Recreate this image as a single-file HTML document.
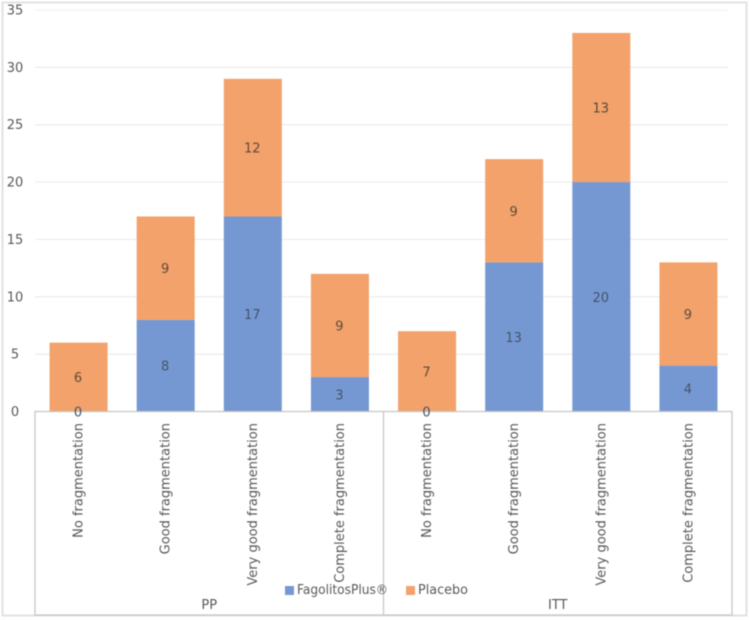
<!DOCTYPE html>
<html lang="en">
<head>
<meta charset="utf-8">
<title>Fragmentation chart</title>
<style>
html,body{margin:0;padding:0;background:#fff;width:749px;height:620px;overflow:hidden}
svg{display:block;filter:blur(0.5px)}
text{font-family:"DejaVu Sans","Liberation Sans",sans-serif;fill:#595959}
</style>
</head>
<body>
<svg id="chart" xmlns="http://www.w3.org/2000/svg" width="749" height="620" viewBox="0 0 749 620">
<rect x="0" y="0" width="749" height="620" fill="#ffffff"/>
<path d="M2.5 615.5V2.5H746.5V615.5Z" fill="none" stroke="#e2e2e2" stroke-width="2"/>
<g id="grid"></g>
<g id="bars"></g>
<g id="axis"></g>
<g id="labels"></g>
<g>
<rect x="285" y="586" width="9" height="9" fill="#7698d2"/>
<text x="297" y="594" font-size="13" textLength="91" lengthAdjust="spacingAndGlyphs">FagolitosPlus®</text>
<rect x="406" y="586" width="9" height="9" fill="#f2a26a"/>
<text x="418" y="594" font-size="13" textLength="50" lengthAdjust="spacingAndGlyphs">Placebo</text>
</g>
</svg>
<script>
var categories = ["No fragmentation","Good fragmentation","Very good fragmentation","Complete fragmentation","No fragmentation","Good fragmentation","Very good fragmentation","Complete fragmentation"];
var groups = ["PP","ITT"];
var fagolitos = [0,8,17,3,0,13,20,4];
var placebo = [6,9,12,9,7,9,13,9];
var yTicks = [0,5,10,15,20,25,30,35];

var svgNS = "http://www.w3.org/2000/svg";
var plotLeft = 35, plotRight = 732, y0 = 411.5, yTop = 10, yMax = 35, barW = 58, axisBottom = 615;
function yScale(v){ return y0 - (v / yMax) * (y0 - yTop); }
function bandW(){ return (plotRight - plotLeft) / categories.length; }
function xCenter(i){ return plotLeft + bandW() * (i + 0.5); }
function make(parentId, tag, attrs, txt){
  var el = document.createElementNS(svgNS, tag);
  for (var k in attrs) el.setAttribute(k, attrs[k]);
  if (txt !== undefined) el.textContent = txt;
  document.getElementById(parentId).appendChild(el);
  return el;
}

yTicks.forEach(function(t){
  var g;
  if (t > 0) {
    g = make("grid","line",{x1:plotLeft,x2:plotRight - 4,y1:yScale(t),y2:yScale(t),stroke:t === 35 ? "#f3f3f3" : "#ececec","stroke-width":1.2});
    
    
  }
  var l = make("axis","text",{x:15,y:yScale(t) + 4.5,"text-anchor":"middle","font-size":13},String(t));
  
  
});

categories.forEach(function(c,i){
  var cx = xCenter(i);
  var a = fagolitos[i], b = placebo[i];
  var r1 = make("bars","rect",{x:cx - barW/2,y:yScale(a),width:barW,height:y0 - yScale(a),fill:"#7698d2"});
  
  
  var r2 = make("bars","rect",{x:cx - barW/2,y:yScale(a + b),width:barW,height:yScale(a) - yScale(a + b),fill:"#f2a26a"});
  
  
});

var frame = make("axis","rect",{x:plotLeft,y:y0,width:plotRight - plotLeft,height:axisBottom - y0,fill:"#ffffff",stroke:"#c4c4c4","stroke-width":1.2});


var sep = make("axis","line",{x1:(plotLeft + plotRight)/2,x2:(plotLeft + plotRight)/2,y1:y0,y2:axisBottom,stroke:"#c4c4c4","stroke-width":1.2});



categories.forEach(function(c,i){
  var cx = xCenter(i);
  var a = fagolitos[i], b = placebo[i];
  var l1 = make("labels","text",{x:cx - 0.5,y:(yScale(a) + y0)/2 + 5,"text-anchor":"middle","font-size":13,style:"fill:#44546a"},String(a));
  
  
  var l2 = make("labels","text",{x:cx - 0.5,y:(yScale(a) + yScale(a + b))/2 + 5,"text-anchor":"middle","font-size":13,style:"fill:#5f4a3a"},String(b));
  
  
  var cat = make("labels","text",{"text-anchor":"end","font-size":13,transform:"translate(" + (cx + 4) + ",423) rotate(-90)"},c);
  
  
});

groups.forEach(function(g,i){
  var w = (plotRight - plotLeft) / groups.length;
  var t = make("labels","text",{x:plotLeft + w * (i + 0.5),y:609,"text-anchor":"middle","font-size":13},g);
  
  
});
</script>
</body>
</html>
